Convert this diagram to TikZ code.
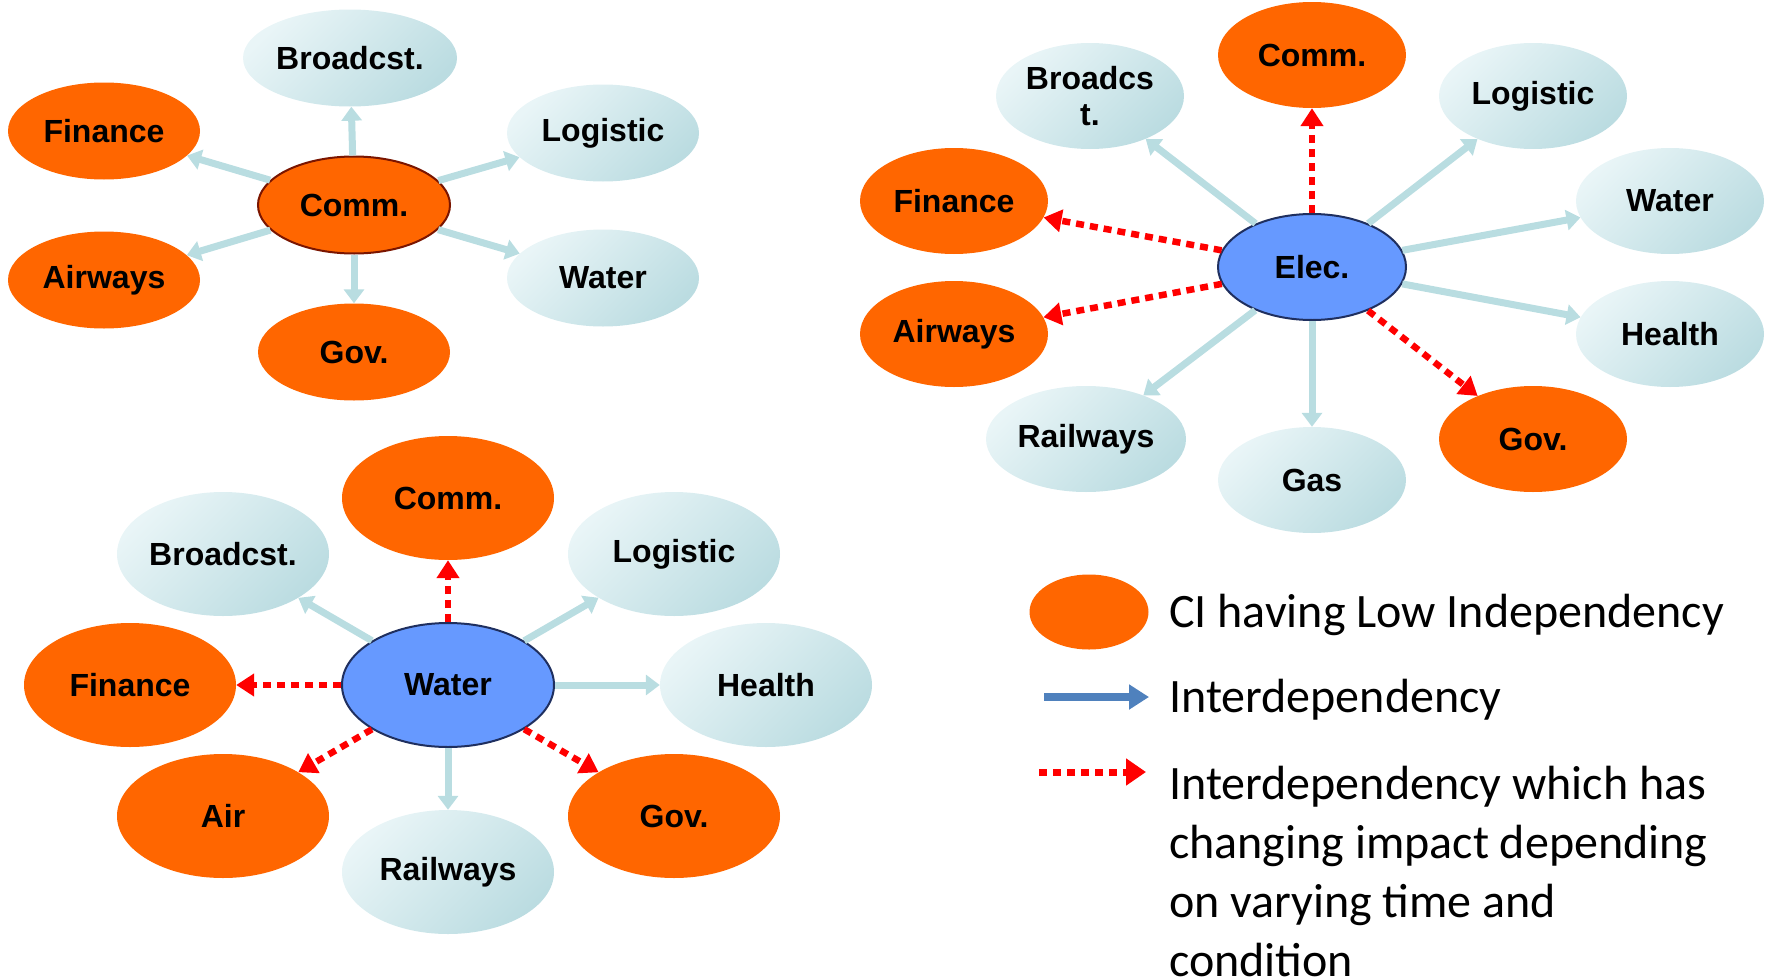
\documentclass[tikz,border=0pt]{standalone}
\usepackage{fontspec}
\setmainfont{Carlito}
\newfontfamily\labelfont{Liberation Sans}
\usepackage{tikz}
\usetikzlibrary{positioning,shapes.geometric,arrows.meta}

\definecolor{lowci}{HTML}{FF6600}
\definecolor{hubblue}{HTML}{6699FF}
\definecolor{hubedge}{HTML}{1F2F5F}
\definecolor{commedge}{HTML}{7A1500}
\definecolor{paleleft}{HTML}{E9F5F7}
\definecolor{paleright}{HTML}{BBDCE1}
\definecolor{linkblue}{HTML}{B9DDE1}
\definecolor{legendblue}{HTML}{4F81BD}

\begin{document}
\begin{tikzpicture}[x=1pt, y=-1pt,
    lownode/.style={ellipse, fill=lowci, inner sep=0pt, font=\labelfont\bfseries\fontsize{32}{34}\selectfont},
    palenode/.style={ellipse, left color=paleleft, right color=paleright, shading angle=45, inner sep=0pt, align=center, font=\labelfont\bfseries\fontsize{32}{36}\selectfont},
    hubnode/.style={ellipse, fill=hubblue, draw=hubedge, line width=2pt, inner sep=0pt, font=\labelfont\bfseries\fontsize{32}{34}\selectfont},
    link/.style={draw=linkblue, line width=7pt, -{Triangle[width=20pt,length=14pt]}},
    varlink/.style={draw=red, line width=6.5pt, dash pattern=on 8pt off 6pt, -{Triangle[width=22pt,length=18pt]}},
    legendtext/.style={inner sep=0pt, align=left, font=\fontsize{48}{59}\selectfont}
    ]
    \useasboundingbox (0,0) rectangle (1775,977);

    %Comm. cluster
    \begin{scope}[every node/.append style={minimum width=192pt, minimum height=97pt}]
    \node[lownode, draw=commedge, line width=2pt] (comm_center)    at (354,205) {Comm.};
    \node[palenode, minimum width=214pt]          (comm_broadcast) at (350,58)  {Broadcst.};
    \node[lownode]                                (comm_finance)   at (104,131) {Finance};
    \node[palenode]                               (comm_logistic)  at (603,133) {Logistic};
    \node[lownode]                                (comm_airways)   at (104,280) {Airways};
    \node[palenode]                               (comm_water)     at (603,278) {Water};
    \node[lownode]                                (comm_gov)       at (354,352) {Gov.};
    \end{scope}

    %Elec. cluster
    \begin{scope}[every node/.append style={minimum width=188pt, minimum height=106pt}]
    \node[hubnode]                       (elec_center)    at (1312,267) {Elec.};
    \node[lownode]                       (elec_comm)      at (1312,55)  {Comm.};
    \node[palenode]                      (elec_broadcast) at (1090,96)  {Broadcs\\t.};
    \node[palenode]                      (elec_logistic)  at (1533,96)  {Logistic};
    \node[lownode]                       (elec_finance)   at (954,201)  {Finance};
    \node[palenode]                      (elec_water)     at (1670,201) {Water};
    \node[lownode]                       (elec_airways)   at (954,334)  {Airways};
    \node[palenode]                      (elec_health)    at (1670,334) {Health};
    \node[palenode, minimum width=200pt] (elec_railways)  at (1086,439) {Railways};
    \node[palenode]                      (elec_gas)       at (1312,480) {Gas};
    \node[lownode]                       (elec_gov)       at (1533,439) {Gov.};
    \end{scope}

    %Water cluster
    \begin{scope}[every node/.append style={minimum width=212pt, minimum height=124pt}]
    \node[hubnode]  (water_center)    at (448,685) {Water};
    \node[lownode]  (water_comm)      at (448,498) {Comm.};
    \node[palenode] (water_broadcast) at (223,554) {Broadcst.};
    \node[palenode] (water_logistic)  at (674,554) {Logistic};
    \node[lownode]  (water_finance)   at (130,685) {Finance};
    \node[palenode] (water_health)    at (766,685) {Health};
    \node[lownode]  (water_air)       at (223,816) {Air};
    \node[palenode] (water_railways)  at (448,872) {Railways};
    \node[lownode]  (water_gov)       at (674,816) {Gov.};
    \end{scope}

    %Legend
    \node[ellipse, fill=lowci, minimum width=119pt, minimum height=75pt] (legend_low) at (1089,612) {};
    \node[legendtext, anchor=west] (legend_low_text) at (1169,615) {CI having Low Independency};
    \coordinate (legend_solid_start) at (1044,697);
    \coordinate (legend_solid_end)   at (1149,697);
    \node[legendtext, anchor=west] (legend_solid_text) at (1169,700) {Interdependency};
    \coordinate (legend_var_start) at (1039,772);
    \coordinate (legend_var_end)   at (1146,772);
    \node[legendtext, anchor=north west] (legend_var_text) at (1169,766) {Interdependency which has\\changing impact depending\\on varying time and\\condition};

    %Lines
    \draw[link]   (comm_center) -- (comm_broadcast);
    \draw[link]   (comm_center) -- (comm_finance);
    \draw[link]   (comm_center) -- (comm_logistic);
    \draw[link]   (comm_center) -- (comm_airways);
    \draw[link]   (comm_center) -- (comm_water);
    \draw[link]   (comm_center) -- (comm_gov);

    \draw[varlink]  (elec_center) -- (elec_comm);
    \draw[link]     (elec_center) -- (elec_broadcast);
    \draw[link]     (elec_center) -- (elec_logistic);
    \draw[varlink]  (elec_center) -- (elec_finance);
    \draw[link]     (elec_center) -- (elec_water);
    \draw[varlink]  (elec_center) -- (elec_airways);
    \draw[link]     (elec_center) -- (elec_health);
    \draw[link]     (elec_center) -- (elec_railways);
    \draw[link]     (elec_center) -- (elec_gas);
    \draw[varlink]  (elec_center) -- (elec_gov);

    \draw[varlink]  (water_center) -- (water_comm);
    \draw[link]     (water_center) -- (water_broadcast);
    \draw[link]     (water_center) -- (water_logistic);
    \draw[varlink]  (water_center) -- (water_finance);
    \draw[link]     (water_center) -- (water_health);
    \draw[varlink]  (water_center) -- (water_air);
    \draw[link]     (water_center) -- (water_railways);
    \draw[varlink]  (water_center) -- (water_gov);

    \draw[draw=legendblue, line width=8pt, -{Triangle[width=24pt,length=20pt]}] (legend_solid_start) -- (legend_solid_end);
    \draw[draw=red, line width=7pt, dash pattern=on 8pt off 6pt, -{Triangle[width=26pt,length=20pt]}] (legend_var_start) -- (legend_var_end);

    \end{tikzpicture}
\end{document}
